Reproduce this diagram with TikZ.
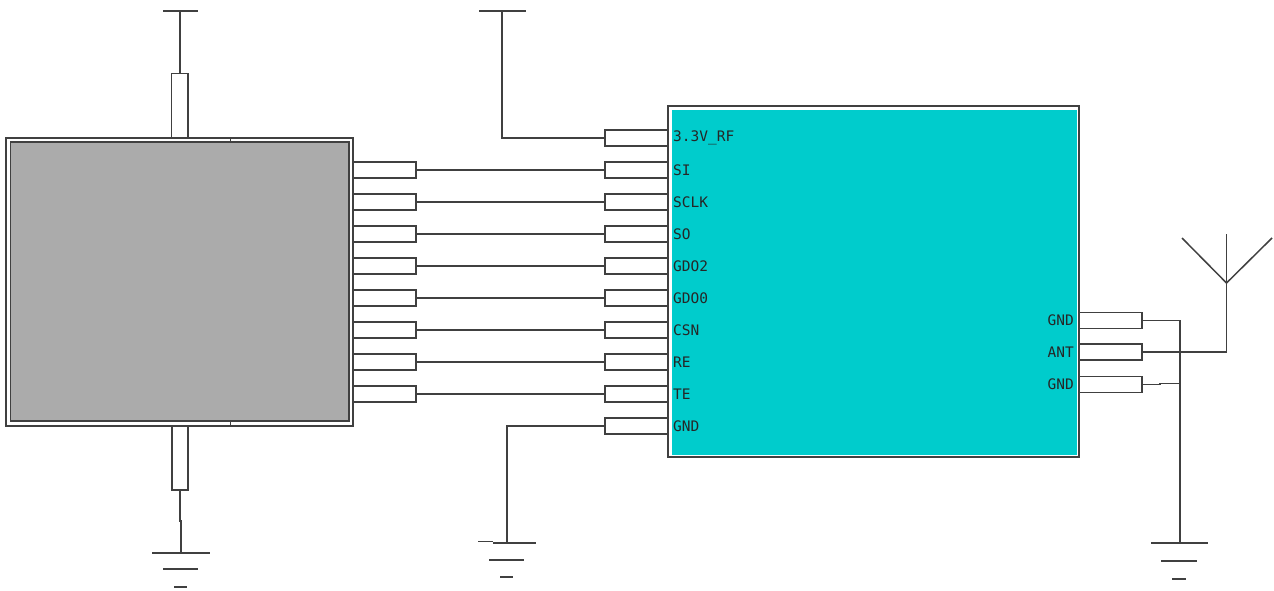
\documentclass[tikz,border=0pt]{standalone}
\usepackage{fontspec}
\newfontfamily\pinfont{DejaVu Sans Mono}
\definecolor{cyx}{HTML}{00CCCC}
\definecolor{gyx}{HTML}{ABABAB}
\colorlet{lnx}{black!75}
\tikzset{
    wire/.style={line width=1.5pt,draw=lnx},
    pinbox/.style={wire,fill=white,inner sep=0pt,minimum width=63pt,minimum height=16pt},
    horiz/.style={lnx,fill,inner sep=0pt,minimum height=1.8pt},
    pinl/.style={inner sep=0pt,anchor=west,text=black!85,font=\pinfont\fontsize{14.5}{16}\selectfont},
    pinr/.style={pinl,anchor=east}
}

\begin{document}
\begin{tikzpicture}[x=1pt,y=-1pt]
    \useasboundingbox (0,0) rectangle (1274,590);
    % left package
    \node [wire,fill=white,inner sep=0pt,minimum width=347pt,minimum height=288pt] (mcuout) at (179.5,282) {};
    \node [wire,fill=gyx,inner sep=0pt,minimum width=338.5pt,minimum height=279pt] (mcuin) at (179.75,281.5) {};
    \coordinate (ticka) at (230.5,138);
    \coordinate (tickb) at (230.5,426);
    \draw [wire] (ticka) -- (ticka |- mcuin.north);
    \draw [wire] (tickb) -- (tickb |- mcuin.south);
    % top and bottom pins
    \node [pinbox,minimum width=16.5pt,minimum height=64.5pt] (pintop) at (179.75,105.75) {};
    \node [pinbox,minimum width=16pt,minimum height=64pt] (pinbot) at (180,458) {};
    \node [horiz,minimum width=35pt] (vcctop) at (180.5,11) {};
    \draw [wire] (pintop.north) -- (pintop.north |- vcctop.center);
    \node [horiz,minimum width=58pt] (gnda) at (181,553) {};
    \node [horiz,minimum width=35pt] (gndb) at (180.5,569) {};
    \node [horiz,minimum width=13.5pt,minimum height=2.4pt] (gndc) at (180.25,587) {};
    \coordinate (jogbot) at (181,521);
    \draw [wire] (pinbot.south) -- (pinbot.south |- jogbot) -- (jogbot) -- (gnda.center);
    % module
    \node [wire,fill=white,inner sep=0pt,minimum width=411pt,minimum height=351pt] (rfout) at (873.5,281.5) {};
    \node [fill=cyx,inner sep=0pt,minimum width=405pt,minimum height=345pt] (rfin) at (874.2,282.5) {};
    % signal rows
    \foreach \i/\y/\lab in {1/170/SI,2/202/SCLK,3/234/SO,4/266/GDO2,5/298/GDO0,6/330/CSN,7/362/RE,8/394/TE} {
        \node [pinbox] (mcu\i) at (384.5,\y) {};
        \node [pinbox] (rf\i) at (636.5,\y) {};
        \node [pinl] (lab\i) at (673,\y) {\lab};
        \draw [wire] (mcu\i.east) -- (rf\i.west);
    }
    % supply pins of the module
    \node [pinbox] (rfvcc) at (636.5,138) {};
    \node [pinl] (labvcc) at (673,138) {3.3V\_RF};
    \node [horiz,minimum width=47pt] (vccrf) at (502,11) {};
    \draw [wire] (rfvcc.west) -| (vccrf.center);
    \node [pinbox] (rfgnd) at (636.5,426) {};
    \node [pinl] (labgnd) at (673,426) {GND};
    \coordinate (gndrfj) at (507,543);
    \node [horiz,minimum width=43pt] (gndrfa) at (514.5,543) {};
    \node [horiz,minimum width=15pt] (gndrfs) at (485.5,541.5) {};
    \node [horiz,minimum width=35pt] (gndrfb) at (506.5,560) {};
    \node [horiz,minimum width=13.5pt] (gndrfc) at (506.25,577) {};
    \draw [wire] (rfgnd.west) -| (gndrfj);
    % right side pins
    \foreach \n/\y/\lab in {ga/320.5/GND,an/352/ANT,gb/384.5/GND} {
        \node [pinbox] (r\n) at (1110.5,\y) {};
        \node [pinr] (lab\n) at (1074,\y) {\lab};
    }
    \coordinate (gndrj) at (1180,543);
    \coordinate (jogr) at (1160,383.5);
    \node [horiz,minimum width=57pt] (gndra) at (1179.5,543) {};
    \node [horiz,minimum width=36pt] (gndrb) at (1179,561) {};
    \node [horiz,minimum width=14pt] (gndrc) at (1179,579) {};
    \draw [wire] (rga.east) -| (gndrj);
    \draw [wire] (rgb.east) -- (rgb.east -| jogr) -- (jogr) -- (jogr -| gndrj);
    % antenna
    \coordinate (antfoot) at (1226.5,283);
    \coordinate (anttip) at (1226.5,234);
    \coordinate (antl) at (1182,238);
    \coordinate (antr) at (1272,238);
    \draw [wire] (ran.east) -| (antfoot);
    \draw [wire] (antfoot) -- (anttip);
    \draw [wire] (antl) -- (antfoot) -- (antr);
\end{tikzpicture}
\end{document}
